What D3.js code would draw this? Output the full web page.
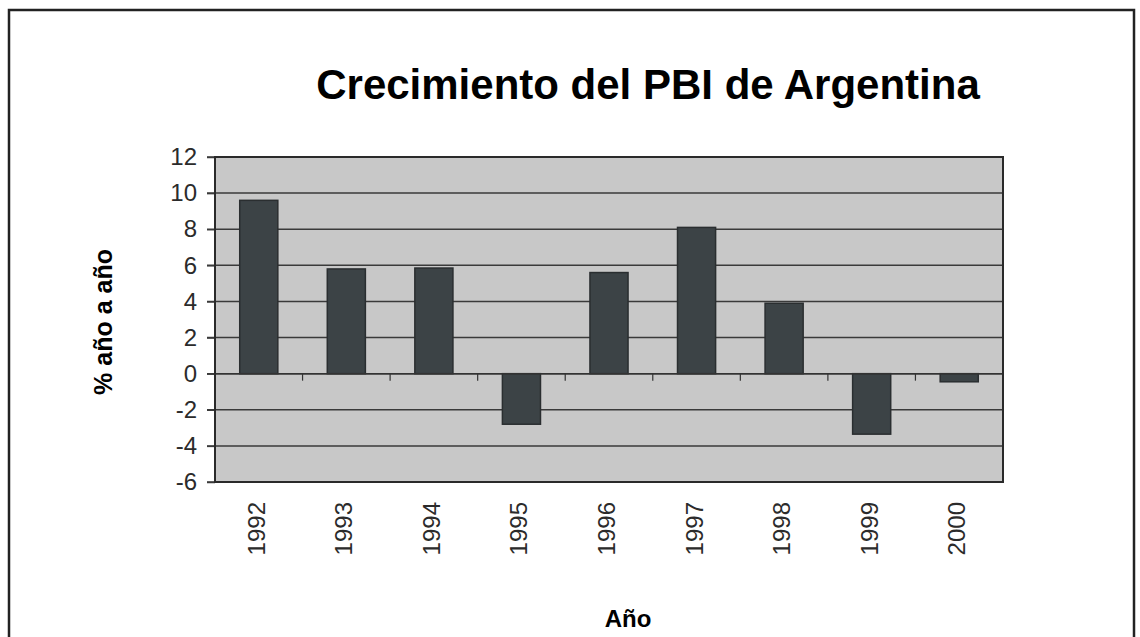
<!DOCTYPE html>
<html>
<head>
<meta charset="utf-8">
<script src="https://cdn.jsdelivr.net/npm/d3@7"></script>
<style>
  body { margin: 0; background: #fff; }
  svg { display: block; font-family: "Liberation Sans", Arial, sans-serif; }
</style>
</head>
<body>
<svg id="chart" width="1140" height="637"></svg>
<script>
// datos
const years = ["1992", "1993", "1994", "1995", "1996", "1997", "1998", "1999", "2000"]
const growth = [9.6, 5.8, 5.85, -2.8, 5.6, 8.1, 3.9, -3.35, -0.45]
const yTicks = [-6, -4, -2, 0, 2, 4, 6, 8, 10, 12]

const svg = d3.select("#chart")

// marco exterior
svg.append("rect")
   .attr("x", 9).attr("y", 10)
   .attr("width", 1125).attr("height", 640)
   .attr("fill", "none")
   .attr("stroke", "#222")
   .attr("stroke-width", 2.5)

// titulo
svg.append("text")
   .attr("x", 648).attr("y", 99)
   .attr("text-anchor", "middle")
   .attr("font-size", 42)
   .attr("font-weight", "bold")
   .text("Crecimiento del PBI de Argentina")

const plot = {left: 215, right: 1003, top: 157, bottom: 482}

const x = d3.scaleBand()
            .domain(years)
            .range([plot.left, plot.right])
            .paddingInner(0.565)
            .paddingOuter(0.2825)

const y = d3.scaleLinear()
            .domain([-6, 12])
            .range([plot.bottom, plot.top])

// fondo gris del area
svg.append("rect")
   .attr("x", plot.left).attr("y", plot.top)
   .attr("width", plot.right - plot.left)
   .attr("height", plot.bottom - plot.top)
   .attr("fill", "#c8c8c8")

// lineas de grilla
svg.append("g")
   .selectAll("line")
   .data(yTicks)
   .join("line")
   .attr("x1", plot.left - 8)
   .attr("x2", plot.right)
   .attr("y1", d => y(d))
   .attr("y2", d => y(d))
   .attr("stroke", "#3a3a3a")
   .attr("stroke-width", 1.5)

// eje y con etiquetas (guion normal, no signo menos)
const yAxis = svg.append("g")
   .attr("transform", `translate(${plot.left}, 0)`)
   .call(d3.axisLeft(y).tickValues(yTicks).tickFormat(d => String(d)).tickSize(8).tickPadding(10))
yAxis.select(".domain").remove()
yAxis.selectAll("line").attr("stroke", "#3a3a3a").attr("stroke-width", 1.5)
yAxis.selectAll("text")
     .attr("font-size", 24)
     .attr("fill", "#2b2b2b")
     .attr("font-family", "Liberation Sans, Arial, sans-serif")

// barras
svg.append("g")
   .selectAll("rect")
   .data(years)
   .join("rect")
   .attr("x", d => x(d))
   .attr("width", x.bandwidth())
   .attr("y", (d, i) => y(Math.max(0, growth[i])))
   .attr("height", (d, i) => Math.abs(y(growth[i]) - y(0)))
   .attr("fill", "#3c4346")
   .attr("stroke", "#2a2e30")
   .attr("stroke-width", 1.5)

// eje x en cero con marcas entre categorias
svg.append("line")
   .attr("x1", plot.left).attr("x2", plot.right)
   .attr("y1", y(0)).attr("y2", y(0))
   .attr("stroke", "#333").attr("stroke-width", 1.5)

const gap = (x.step() - x.bandwidth()) / 2
svg.append("g")
   .selectAll("line")
   .data(years.slice(1))
   .join("line")
   .attr("x1", d => x(d) - gap)
   .attr("x2", d => x(d) - gap)
   .attr("y1", y(0))
   .attr("y2", y(0) + 7)
   .attr("stroke", "#333")
   .attr("stroke-width", 1.2)

// borde del area
svg.append("rect")
   .attr("x", plot.left).attr("y", plot.top)
   .attr("width", plot.right - plot.left)
   .attr("height", plot.bottom - plot.top)
   .attr("fill", "none")
   .attr("stroke", "#2a2a2a")
   .attr("stroke-width", 2)

// etiquetas de anos (rotadas)
svg.append("g")
   .selectAll("text")
   .data(years)
   .join("text")
   .attr("transform", d => `translate(${x(d) + x.bandwidth() / 2 + 6}, 502) rotate(-90)`)
   .attr("text-anchor", "end")
   .attr("font-size", 24)
   .attr("fill", "#2b2b2b")
   .text(d => d)

// titulos de ejes
svg.append("text")
   .attr("transform", "translate(112, 322) rotate(-90)")
   .attr("text-anchor", "middle")
   .attr("font-size", 25)
   .attr("font-weight", "bold")
   .text("% año a año")

svg.append("text")
   .attr("x", 628).attr("y", 627)
   .attr("text-anchor", "middle")
   .attr("font-size", 24)
   .attr("font-weight", "bold")
   .text("Año")
</script>
</body>
</html>
